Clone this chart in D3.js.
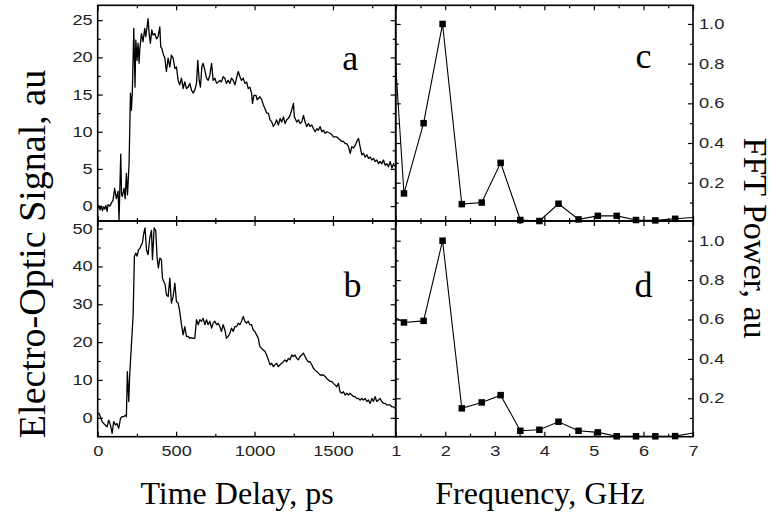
<!DOCTYPE html>
<html><head><meta charset="utf-8">
<script src="https://cdn.jsdelivr.net/npm/d3@7"></script>
<style>body{margin:0;background:#fff}</style>
</head><body><svg id="chart" width="777" height="519"></svg>
<script>
// ---- data ----
const traceA = [[0,-0.3],[8,0.1],[15,-0.5],[23,0.0],[30,-0.6],[38,-0.1],[45,-0.4],[52,0.1],[60,-0.7],[66,0.2],[77,0.0],[87,0.4],[98,0.8],[108,2.4],[119,1.0],[130,2.0],[136,-1.9],[147,7.0],[152,1.5],[157,1.3],[168,2.4],[175,1.0],[183,4.4],[190,1.5],[200,5.7],[209,15.2],[215,12.9],[221,15.4],[230,23.9],[238,16.0],[243,22.3],[251,19.6],[257,21.9],[264,19.2],[268,21.0],[279,23.2],[289,22.1],[300,23.9],[306,22.8],[315,24.1],[321,25.2],[328,23.2],[336,21.9],[345,23.7],[353,23.0],[364,23.2],[375,22.5],[385,22.8],[396,24.1],[402,21.4],[409,21.2],[417,20.5],[428,19.9],[438,18.1],[449,19.9],[460,18.7],[470,20.3],[481,19.9],[492,18.5],[502,18.7],[513,16.9],[523,16.3],[534,17.2],[545,15.8],[555,16.7],[566,15.8],[577,16.0],[587,16.5],[598,15.6],[609,15.2],[619,15.6],[630,16.5],[638,19.6],[647,16.9],[655,16.0],[664,18.7],[672,19.2],[683,18.3],[694,17.2],[704,16.9],[715,17.6],[726,19.2],[736,16.9],[747,17.2],[758,16.5],[768,16.7],[779,16.9],[789,16.7],[800,17.4],[811,17.2],[821,16.5],[832,16.9],[843,16.5],[853,17.2],[864,16.9],[875,16.3],[885,17.2],[896,18.1],[907,17.4],[917,16.9],[928,17.2],[938,16.5],[949,16.7],[960,15.8],[970,16.0],[981,15.2],[987,13.8],[996,14.9],[1009,14.9],[1017,14.3],[1034,14.7],[1046,14.3],[1056,13.6],[1067,13.1],[1078,12.5],[1088,12.5],[1099,11.6],[1110,11.3],[1120,10.7],[1131,11.1],[1141,11.6],[1152,10.9],[1163,11.8],[1173,11.3],[1184,12.0],[1195,11.1],[1205,11.6],[1216,11.8],[1226,12.2],[1237,12.9],[1248,13.8],[1254,12.0],[1269,11.3],[1280,11.6],[1290,11.1],[1301,11.3],[1312,12.2],[1322,11.3],[1333,10.7],[1344,11.1],[1354,10.7],[1365,10.9],[1376,10.4],[1386,10.0],[1397,10.4],[1407,10.2],[1418,10.7],[1429,10.0],[1439,10.2],[1450,9.8],[1461,10.0],[1471,9.9],[1482,9.8],[1493,9.6],[1503,9.3],[1514,9.3],[1524,9.3],[1535,9.1],[1546,8.9],[1556,8.7],[1567,8.7],[1578,8.4],[1588,8.4],[1599,8.0],[1610,7.1],[1620,8.0],[1631,7.8],[1642,8.2],[1652,8.7],[1663,9.1],[1673,8.0],[1684,6.9],[1695,7.1],[1705,6.6],[1716,6.9],[1727,6.4],[1737,6.6],[1748,6.2],[1759,6.4],[1769,6.0],[1780,6.2],[1791,5.7],[1801,6.0],[1812,5.7],[1822,6.2],[1833,5.5],[1844,5.7],[1854,5.3],[1865,6.0],[1876,5.1],[1886,5.7],[1897,5.3]];

const traceB = [[0,1.0],[8,1.2],[17,0.3],[28,-1.0],[38,-1.5],[49,-1.9],[60,-2.4],[70,-0.6],[81,-1.9],[92,-4.1],[102,-1.0],[113,-1.9],[123,-1.5],[134,-2.8],[145,-0.2],[155,0.3],[166,0.3],[177,0.7],[183,0.3],[189,12.2],[198,4.3],[204,11.3],[215,19.3],[226,27.2],[234,42.7],[243,43.5],[251,42.7],[260,44.4],[268,44.7],[279,45.7],[285,46.2],[294,48.8],[302,50.2],[311,44.4],[321,43.1],[332,47.5],[343,49.5],[349,41.8],[360,50.2],[370,49.5],[379,42.2],[387,39.6],[396,42.2],[406,41.8],[413,36.9],[421,36.0],[430,35.2],[438,32.5],[449,32.0],[460,36.9],[470,30.3],[481,32.0],[492,35.6],[502,30.7],[513,30.3],[523,28.1],[534,24.6],[545,21.9],[555,24.1],[566,21.5],[577,21.5],[587,21.0],[598,21.2],[609,21.0],[619,21.0],[630,25.9],[641,24.6],[651,25.9],[662,25.5],[672,26.3],[683,24.6],[694,25.9],[704,24.6],[715,25.5],[726,23.7],[736,25.0],[747,25.5],[758,24.6],[768,25.0],[779,24.1],[789,22.8],[800,24.6],[811,23.2],[821,21.0],[832,21.5],[843,22.4],[853,23.7],[864,22.8],[875,24.1],[885,24.1],[896,25.0],[907,24.6],[917,25.5],[928,26.8],[938,25.5],[949,25.0],[960,25.5],[970,24.6],[981,24.6],[992,23.2],[1002,22.8],[1013,21.9],[1024,21.0],[1034,18.8],[1045,18.4],[1056,17.9],[1067,17.5],[1077,16.6],[1088,15.3],[1099,14.0],[1109,14.4],[1120,13.5],[1130,14.0],[1141,14.4],[1152,13.5],[1162,14.0],[1173,14.4],[1184,14.8],[1194,15.3],[1205,14.8],[1216,15.7],[1226,15.3],[1237,16.6],[1247,16.2],[1258,16.6],[1269,15.7],[1279,15.3],[1290,16.2],[1301,16.6],[1311,17.1],[1322,16.2],[1333,15.3],[1343,14.8],[1354,14.8],[1365,14.0],[1375,13.1],[1386,12.6],[1396,12.2],[1407,11.8],[1418,11.3],[1428,11.3],[1439,11.3],[1450,10.9],[1460,10.4],[1471,10.0],[1482,9.6],[1492,9.6],[1503,9.1],[1513,8.7],[1524,8.2],[1535,9.1],[1545,6.9],[1556,6.5],[1567,6.9],[1577,6.0],[1588,6.5],[1599,6.0],[1609,6.5],[1620,6.0],[1631,5.6],[1641,5.6],[1652,5.1],[1662,5.1],[1673,4.7],[1684,5.1],[1694,4.7],[1705,5.1],[1716,4.3],[1726,4.7],[1737,3.8],[1748,5.1],[1758,4.3],[1769,5.6],[1779,4.3],[1790,4.7],[1801,5.1],[1811,4.3],[1822,3.8],[1833,3.8],[1843,3.4],[1854,3.4],[1865,3.4],[1875,2.9],[1886,2.9],[1897,2.5]];

const freqGHz = [0.777,1.167,1.563,1.946,2.334,2.736,3.118,3.515,3.90,4.286,4.69,5.08,5.46,5.85,6.24,6.64,7.03];
const powerC  = [1.65,0.146,0.50,1.0,0.092,0.10,0.30,0.012,0.007,0.094,0.015,0.033,0.033,0.012,0.010,0.018,0.025];
const powerD  = [0.64,0.585,0.593,1.0,0.149,0.179,0.216,0.035,0.040,0.081,0.035,0.027,0.007,0.007,0.007,0.008,0.025];

const timeTicks = [0,500,1000,1500];
const timeMinor = [250,750,1250,1750];
const freqTicks = [1,2,3,4,5,6,7];
const freqMinor = [1.5,2.5,3.5,4.5,5.5,6.5];
const aTicks = [0,5,10,15,20,25];
const aMinor = [2.5,7.5,12.5,17.5,22.5];
const bTicks = [0,10,20,30,40,50];
const bMinor = [5,15,25,35,45];
const fftTicks = [0.2,0.4,0.6,0.8,1.0];
const fftMinor = [0.1,0.3,0.5,0.7,0.9];

// ---- layout ----
const L = 97.7, M = 395.7, R = 693, T = 5.3, H = 221, B = 436.7;
const svg = d3.select("#chart");
svg.append("rect").attr("width",777).attr("height",519).attr("fill","#fff");

const xT = d3.scaleLinear().domain([0,1900]).range([L,M]);
const xF = d3.scaleLinear().domain([1,7]).range([M,R]);
const yA = d3.scaleLinear().domain([-2,27]).range([H,T]);
const yB = d3.scaleLinear().domain([-5,52]).range([B,H]);
const yC = d3.scaleLinear().domain([0.007,1.094]).range([H,T]);
const yD = d3.scaleLinear().domain([0.005,1.10]).range([B,H]);

const SX = 1.3; // horizontal stretch of tick digits
const tickFont = "'Liberation Sans', Arial, sans-serif";
const serif = "'Liberation Serif', 'Times New Roman', serif";
const plain = d => String(d);
const f1 = d => d3.format(".1f")(d);

function axisG(axis, tx, ty, showLabels) {
  const g = svg.append("g").attr("transform", `translate(${tx},${ty})`).call(axis);
  g.select(".domain").remove();
  g.selectAll(".tick line").attr("stroke","#000").attr("stroke-width",1.2);
  if (!showLabels) g.selectAll(".tick text").remove();
  else g.selectAll(".tick text").attr("font-family",tickFont).attr("font-size",14).attr("fill","#222");
  return g;
}

function frame(x, y, xMaj, xMin, yMaj, yMin, o) {
  const [x0,x1] = x.range(); const [y0,y1] = y.range();
  const fmtY = o.fmtY || plain;
  const gl = axisG(d3.axisLeft(y).tickValues(yMaj).tickSize(-5).tickPadding(5).tickFormat(fmtY), x0, 0, o.left);
  if (o.left) gl.selectAll(".tick text").attr("x", -5/SX).attr("transform",`scale(${SX},1)`);
  axisG(d3.axisLeft(y).tickValues(yMin).tickSize(-3).tickFormat(""), x0, 0, false);
  const gr = axisG(d3.axisRight(y).tickValues(yMaj).tickSize(-5).tickPadding(6).tickFormat(fmtY), x1, 0, o.right);
  if (o.right) gr.selectAll(".tick text").attr("x", 6/SX).attr("transform",`scale(${SX},1)`);
  axisG(d3.axisRight(y).tickValues(yMin).tickSize(-3).tickFormat(""), x1, 0, false);
  axisG(d3.axisTop(x).tickValues(xMaj).tickSize(-5).tickFormat(""), 0, y1, false);
  axisG(d3.axisTop(x).tickValues(xMin).tickSize(-3).tickFormat(""), 0, y1, false);
  const gb = axisG(d3.axisBottom(x).tickValues(xMaj).tickSize(-5).tickPadding(9).tickFormat(plain), 0, y0, o.bottom);
  if (o.bottom) gb.selectAll(".tick text").attr("transform",`scale(${SX},1)`);
  axisG(d3.axisBottom(x).tickValues(xMin).tickSize(-3).tickFormat(""), 0, y0, false);
}

function clipFor(id, x, y) {
  svg.append("clipPath").attr("id", id).append("rect")
    .attr("x", x.range()[0]).attr("y", y.range()[1])
    .attr("width", x.range()[1]-x.range()[0]).attr("height", y.range()[0]-y.range()[1]);
  return `url(#${id})`;
}

function trace(data, x, y, id) {
  svg.append("path").datum(data)
    .attr("clip-path", clipFor(id, x, y))
    .attr("d", d3.line().x(d=>x(d[0])).y(d=>y(d[1])))
    .attr("fill","none").attr("stroke","#000").attr("stroke-width",1.3).attr("stroke-linejoin","round");
}

function fft(vals, x, y, id) {
  const data = freqGHz.map((f,i)=>[f, vals[i]]);
  svg.append("path").datum(data)
    .attr("clip-path", clipFor(id, x, y))
    .attr("d", d3.line().x(d=>x(d[0])).y(d=>y(d[1])))
    .attr("fill","none").attr("stroke","#000").attr("stroke-width",1.1);
  const s = 6.5;
  svg.append("g").selectAll("rect").data(data.filter(d=>d[0]>=1 && d[0]<=7))
    .join("rect")
    .attr("x", d=>x(d[0])-s/2).attr("y", d=>y(d[1])-s/2)
    .attr("width", s).attr("height", s).attr("fill","#000");
}

trace(traceA, xT, yA, "ca");
trace(traceB, xT, yB, "cb");
fft(powerC, xF, yC, "cc");
fft(powerD, xF, yD, "cd");

frame(xT, yA, timeTicks, timeMinor, aTicks, aMinor, {left:true});
frame(xT, yB, timeTicks, timeMinor, bTicks, bMinor, {left:true, bottom:true});
frame(xF, yC, freqTicks, freqMinor, fftTicks, fftMinor, {right:true, fmtY:f1});
frame(xF, yD, freqTicks, freqMinor, fftTicks, fftMinor, {right:true, bottom:true, fmtY:f1});

[[L,T,M,H],[L,H,M,B],[M,T,R,H],[M,H,R,B]].forEach(([a,b,c,d])=>{
  svg.append("rect").attr("x",a).attr("y",b).attr("width",c-a).attr("height",d-b)
    .attr("fill","none").attr("stroke","#000").attr("stroke-width",1.6);
});

// panel letters
const letters = [["a", xT(1610), yA(18.3)], ["b", xT(1625), yB(31.9)], ["c", xF(6.0), yC(0.78)], ["d", xF(6.0), yD(0.712)]];
svg.append("g").selectAll("text").data(letters).join("text")
  .attr("x", d=>d[1]).attr("y", d=>d[2]).attr("text-anchor","middle")
  .attr("font-family", serif).attr("font-size", 36).text(d=>d[0]);

// axis titles
svg.append("text").attr("transform","translate(45,254) rotate(-90)").attr("text-anchor","middle")
  .attr("font-family", serif).attr("font-size", 38).text("Electro-Optic Signal, au");
svg.append("text").attr("transform","translate(744,238) rotate(90)").attr("text-anchor","middle")
  .attr("font-family", serif).attr("font-size", 34).text("FFT Power, au");
svg.append("text").attr("x", 237).attr("y", 504).attr("text-anchor","middle")
  .attr("font-family", serif).attr("font-size", 32).text("Time Delay, ps");
svg.append("text").attr("x", 540).attr("y", 504).attr("text-anchor","middle")
  .attr("font-family", serif).attr("font-size", 32).text("Frequency, GHz");
</script></body></html>
